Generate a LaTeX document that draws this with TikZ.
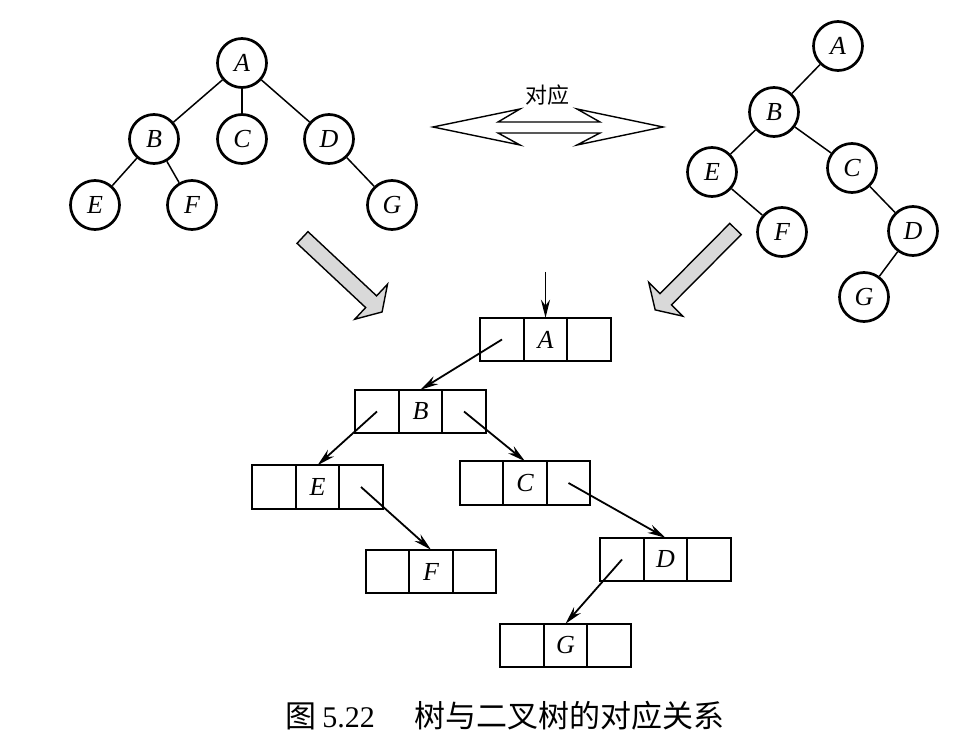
\documentclass[tikz,border=0pt]{standalone}
\usepackage{fontspec}
\setmainfont{Liberation Serif}
\newfontfamily\cjk{Noto Sans CJK SC}
\usetikzlibrary{positioning,arrows.meta}

\begin{document}
\begin{tikzpicture}[x=0.5pt,y=-0.5pt,
	vertex/.style={circle,draw,line width=1.35pt,minimum size=24.5pt,inner sep=0pt,font=\fontsize{13}{15}\selectfont\itshape},
	cell/.style={rectangle,draw,line width=0.85pt,minimum size=21.75pt,inner sep=0pt,outer sep=0pt,font=\fontsize{13}{15}\selectfont\itshape},
	edge/.style={line width=0.75pt},
	ptr/.style={line width=0.9pt,-{Stealth[length=9pt,width=4.5pt]}},
	bigarrow/.style={draw,fill=black!15,line width=0.7pt,line join=miter}]
	\useasboundingbox[fill=white] (0,0) rectangle (959,743);
	% tree
	\foreach \n/\x/\y in {A/242/63,B/154/139,C/242/139,D/329/139,E/95/205,F/192/205,G/392/205}
		\node[vertex] (t\n) at (\x,\y) {\n};
	\foreach \a/\b in {A/B,A/C,A/D,B/E,B/F,D/G}
		\draw[edge] (t\a) -- (t\b);
	% binary tree
	\foreach \n/\x/\y in {A/838/46,B/774/112,E/712/172,C/852/168,F/782/232,D/913/231,G/864/297}
		\node[vertex] (b\n) at (\x,\y) {\n};
	\foreach \a/\b in {A/B,B/E,B/C,E/F,C/D,D/G}
		\draw[edge] (b\a) -- (b\b);
	% double arrow
	\draw[line width=0.7pt,line join=miter] (433,127) -- (520,109) -- (498,122) -- (600,122) -- (577,109)
		-- (663,127) -- (577,145) -- (600,133) -- (498,133) -- (520,145) -- cycle;
	\node (dui) at (547,95) {\fontsize{11}{13}\cjk 对应};
	% gray arrows
	\begin{scope}[shift={(302.5,237.5)},rotate=-43.1]
		\draw[bigarrow] (0,-8) -- (94,-8) -- (94,-24) -- (109,0) -- (94,24) -- (94,8) -- (0,8) -- cycle;
	\end{scope}
	\begin{scope}[shift={(735.5,229)},rotate=-134.8]
		\draw[bigarrow] (0,-8) -- (99,-8) -- (99,-24) -- (114,0) -- (99,24) -- (99,8) -- (0,8) -- cycle;
	\end{scope}
	% linked storage
	\foreach \n/\x/\y in {A/545.5/339.5,B/420.5/411.5,E/317.5/487,C/525/483,F/431/571.5,D/665.5/559.5,G/565.5/645.5}{
		\node[cell] (n\n) at (\x,\y) {\n};
		\node[cell,left=0pt of n\n] (n\n-l) {};
		\node[cell,right=0pt of n\n] (n\n-r) {};
	}
	\coordinate (root) at (545.5,272);
	\draw[ptr] (root) -- (nA.north);
	\draw[ptr] (nA-l.center) -- (nB.north);
	\draw[ptr] (nB-l.center) -- (nE.north);
	\draw[ptr] (nB-r.center) -- (nC.north);
	\draw[ptr] (nE-r.center) -- (nF.north);
	\draw[ptr] (nC-r.center) -- (nD.north);
	\draw[ptr] (nD-l.center) -- (nG.north);
	% caption
	\node[anchor=west,inner sep=0pt] (cap) at (285,716)
		{\fontsize{15.5}{18}\cjk 图\hspace{3pt}{\rmfamily\fontsize{15}{18}\selectfont 5.22}\hspace{20pt}树与二叉树的对应关系};
\end{tikzpicture}
\end{document}
